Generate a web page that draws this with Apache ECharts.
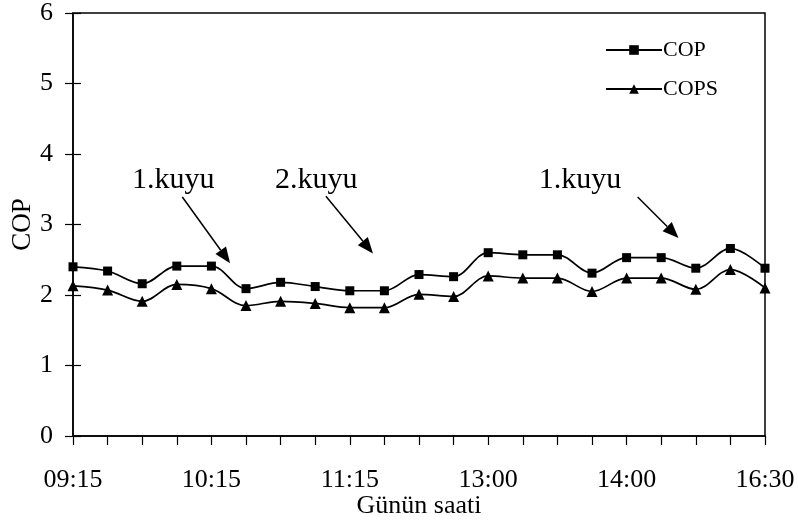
<!DOCTYPE html>
<html>
<head>
<meta charset="utf-8">
<script src="https://cdn.jsdelivr.net/npm/echarts@6/dist/echarts.min.js"></script>
<style>html,body{margin:0;padding:0;background:#fff;}#c{width:798px;height:525px;}</style>
</head>
<body>
<div id="c"></div>
<script>
const categories = ['09:15','09:30','09:45','10:00','10:15','10:30','10:45','11:00','11:15','11:30','11:45','12:00','13:00','13:15','13:30','13:45','14:00','14:30','15:00','15:30','16:30'];
const copValues  = [2.40, 2.34, 2.16, 2.41, 2.41, 2.09, 2.18, 2.12, 2.06, 2.06, 2.29, 2.26, 2.60, 2.57, 2.57, 2.31, 2.53, 2.53, 2.38, 2.66, 2.38];
const copsValues = [2.13, 2.07, 1.91, 2.15, 2.09, 1.85, 1.91, 1.88, 1.82, 1.82, 2.01, 1.98, 2.27, 2.24, 2.24, 2.05, 2.24, 2.24, 2.08, 2.36, 2.10];
const yTicks = [0, 1, 2, 3, 4, 5, 6];
// annotations: label position and arrow (from -> to), in [category index, value]
const annotations = [
  { text: '1.kuyu', at: [2.90, 3.63], from: [3.16, 3.39], to: [4.54, 2.45] },
  { text: '2.kuyu', at: [7.03, 3.63], from: [7.31, 3.40], to: [8.67, 2.59] },
  { text: '1.kuyu', at: [14.65, 3.63], from: [16.32, 3.39], to: [17.50, 2.81] }
];

const FONT = '"Liberation Serif", "Times New Roman", serif';
const chart = echarts.init(document.getElementById('c'), null, { renderer: 'canvas' });

const option = {
  animation: false,
  backgroundColor: '#fff',
  textStyle: { fontFamily: FONT, color: '#000' },
  grid: { left: 73, right: 33, top: 13, bottom: 89, show: true, borderColor: '#000', borderWidth: 1.5, containLabel: false, outerBoundsMode: 'none' },
  legend: {
    orient: 'vertical', left: 600, top: 34, itemWidth: 56, itemHeight: 12, itemGap: 17,
    textStyle: { fontFamily: FONT, fontSize: 22, color: '#000', padding: [0, 0, 0, -4] },
    data: ['COP', 'COPS'], selectedMode: false
  },
  xAxis: {
    type: 'category', data: categories, boundaryGap: false,
    axisLine: { lineStyle: { color: '#000', width: 1.5 } },
    axisTick: { show: true, interval: 0, length: 9, lineStyle: { color: '#000', width: 1.2 } },
    axisLabel: { interval: 3, margin: 31, fontSize: 26, color: '#000', fontFamily: FONT },
    splitLine: { show: false },
    name: 'Günün saati', nameLocation: 'middle', nameGap: 57, nameMoveOverlap: false,
    nameTextStyle: { fontSize: 26, color: '#000', fontFamily: FONT }
  },
  yAxis: [{
    type: 'value', min: yTicks[0], max: yTicks[yTicks.length - 1], interval: 1,
    axisLine: { show: true, lineStyle: { color: '#000', width: 1.5 } },
    axisTick: { show: true, length: 8, lineStyle: { color: '#000', width: 1.2 } },
    axisLabel: { margin: 20, fontSize: 26, color: '#000', fontFamily: FONT },
    splitLine: { show: false },
    name: 'COP', nameLocation: 'middle', nameGap: 37, nameRotate: 90, nameMoveOverlap: false,
    nameTextStyle: { fontSize: 27, color: '#000', fontFamily: FONT }
  }, {
    type: 'value', position: 'left', min: yTicks[0], max: yTicks[yTicks.length - 1], interval: 1,
    axisLine: { show: false },
    axisTick: { show: true, inside: true, length: 8, lineStyle: { color: '#000', width: 1.2 } },
    axisLabel: { show: false }, splitLine: { show: false }
  }],
  series: [{
    name: 'COP', type: 'line', data: copValues, smooth: 0.35,
    symbol: 'rect', symbolSize: 9, color: '#000',
    lineStyle: { color: '#000', width: 1.7 }, itemStyle: { color: '#000' }
  }, {
    name: 'COPS', type: 'line', data: copsValues, smooth: 0.35,
    symbol: 'triangle', symbolSize: 11, color: '#000',
    lineStyle: { color: '#000', width: 1.7 }, itemStyle: { color: '#000' }
  }]
};
chart.setOption(option);

function toPx(p) {
  const i0 = Math.floor(p[0]), f = p[0] - i0;
  const a = chart.convertToPixel({ gridIndex: 0 }, [i0, p[1]]);
  const b = chart.convertToPixel({ gridIndex: 0 }, [i0 + 1, p[1]]);
  return [a[0] + f * (b[0] - a[0]), a[1]];
}
const graphics = [];
annotations.forEach(function (a) {
  const t = toPx(a.at), s = toPx(a.from), e = toPx(a.to);
  graphics.push({ type: 'text', x: t[0], y: t[1], style: { text: a.text, font: '30px ' + FONT, fill: '#000', align: 'center', verticalAlign: 'middle' } });
  const dx = e[0] - s[0], dy = e[1] - s[1], L = Math.sqrt(dx * dx + dy * dy);
  const ux = dx / L, uy = dy / L, hl = 16, hw = 6.5;
  const bx = e[0] - ux * hl, by = e[1] - uy * hl;
  graphics.push({ type: 'line', shape: { x1: s[0], y1: s[1], x2: bx, y2: by }, style: { stroke: '#000', lineWidth: 1.5 } });
  graphics.push({ type: 'polygon', shape: { points: [[e[0], e[1]], [bx - uy * hw, by + ux * hw], [bx + uy * hw, by - ux * hw]] }, style: { fill: '#000' } });
});
chart.setOption({ graphic: graphics });
</script>
</body>
</html>
